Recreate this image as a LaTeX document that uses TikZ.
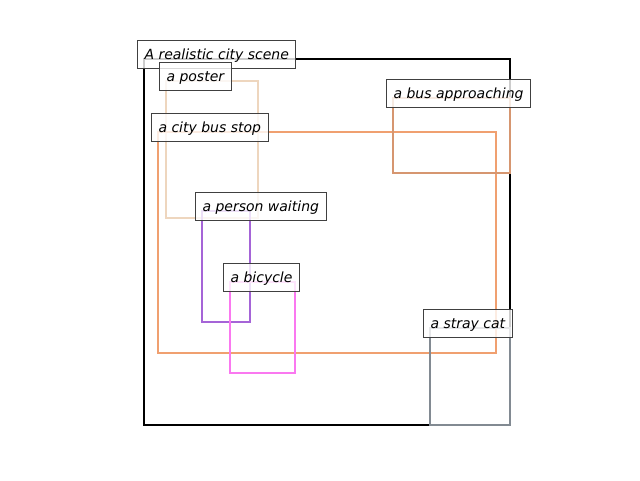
\documentclass[tikz,border=0pt]{standalone}
\usepackage{fontspec}
\setmainfont{DejaVu Sans}
\definecolor{cscene}{RGB}{0,0,0}
\definecolor{cposter}{RGB}{238,214,190}
\definecolor{cstop}{RGB}{240,160,112}
\definecolor{cbus}{RGB}{214,150,112}
\definecolor{cperson}{RGB}{165,100,215}
\definecolor{cbike}{RGB}{250,120,240}
\definecolor{ccat}{RGB}{130,138,146}
\definecolor{cedge}{RGB}{64,64,64}
\tikzset{
  region/.style={line width=1.5pt, line join=miter},
  tag/.style={draw=cedge, line width=0.75pt, fill=white, fill opacity=0.8, text opacity=1,
    font=\fontsize{10.5pt}{12pt}\selectfont\itshape,
    text height=14.25pt, text depth=6.75pt, inner ysep=0pt, inner xsep=5.25pt,
    anchor=base west, xshift=-5.25pt}
}
\begin{document}
\begin{tikzpicture}[x=0.75pt,y=-0.75pt]
\useasboundingbox (0,0) rectangle (640,480);
% regions
\draw[region, cscene] (144,59) rectangle (510,425);
\coordinate (scene) at (144,59);
\draw[region, cposter] (166,81) rectangle (258,218);
\coordinate (poster) at (166,81);
\draw[region, cstop] (158,132) rectangle (496,353);
\coordinate (stop) at (158,132);
\draw[region, cbus] (393,98) rectangle (510,173);
\coordinate (bus) at (393,98);
\draw[region, cperson] (202,211) rectangle (250,322);
\coordinate (person) at (202,211);
\draw[region, cbike] (230,282) rectangle (295,373);
\coordinate (bike) at (230,282);
\draw[region, ccat] (430,328) rectangle (510,425);
\coordinate (cat) at (430,328);
% labels
\node[tag] (lscene) at (scene) {A realistic city scene};
\node[tag] (lposter) at (poster) {a poster};
\node[tag] (lstop) at (stop) {a city bus stop};
\node[tag] (lbus) at (bus) {a bus approaching};
\node[tag] (lperson) at (person) {a person waiting};
\node[tag] (lbike) at (bike) {a bicycle};
\node[tag] (lcat) at (cat) {a stray cat};
\end{tikzpicture}
\end{document}
